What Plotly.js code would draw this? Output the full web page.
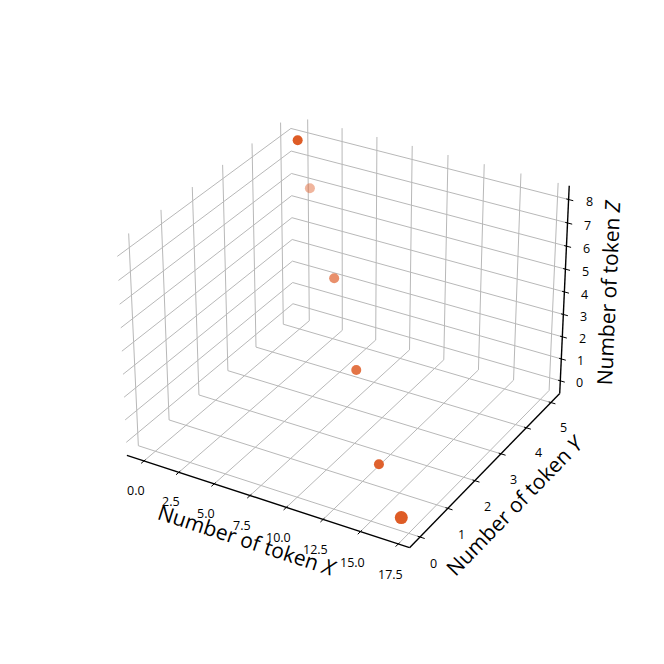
<!DOCTYPE html>
<html><head><meta charset="utf-8">
<script src="https://cdn.plot.ly/plotly-3.0.1.min.js"></script>
<style>html,body{margin:0;padding:0;background:#fff;}#chart{width:664px;height:664px;}</style>
</head><body><div id="chart"></div>
<script>
// ---- Values ----
const tokenX = [0, 2.9, 6.6, 10.1, 13.6, 17];
const tokenY = [5, 4, 3, 2, 1, 0];
const tokenZ = [8, 7.3, 5.0, 2.7, 0.4, 0];
const pointAlpha = [1, 0.45, 0.68, 0.85, 0.97, 1];
const pointSize = [10, 10, 10, 10, 10, 13];
const xTickVals = [0, 2.5, 5, 7.5, 10, 12.5, 15, 17.5];
const xTickText = ['0.0', '2.5', '5.0', '7.5', '10.0', '12.5', '15.0', '17.5'];
const yTickVals = [0, 1, 2, 3, 4, 5];
const yTickText = ['0', '1', '2', '3', '4', '5'];
const zTickVals = [0, 1, 2, 3, 4, 5, 6, 7, 8];
const zTickText = ['0', '1', '2', '3', '4', '5', '6', '7', '8'];
const axisTitles = ['Number of token <i>X</i>', 'Number of token <i>Y</i>', 'Number of token <i>Z</i>'];

// ---- 3D view (elevation 30°, azimuth -60°, perspective, box aspect 4:4:3) ----
const ELEV = 30 * Math.PI / 180, AZIM = -60 * Math.PI / 180, DIST = 10;
const boxRaw = [4, 4, 3];
const boxNorm = Math.hypot(...boxRaw);
const BOX = boxRaw.map(v => v * 1.8294640721620434 / boxNorm);
function lims(arr) { const mn = Math.min(...arr), mx = Math.max(...arr), m = (mx - mn) * 0.05; return [mn - m, mx + m]; }
const L = [lims(tokenX), lims(tokenY), lims(tokenZ)];
const DEL = L.map(l => (l[1] - l[0]) / 12);
const PANE = L.map((l, i) => [l[0] - DEL[i] / 4, l[1] + DEL[i] / 4]);
const CEN = L.map(l => (l[0] + l[1]) / 2);
const dot = (a, b) => a[0] * b[0] + a[1] * b[1] + a[2] * b[2];
const cross = (a, b) => [a[1] * b[2] - a[2] * b[1], a[2] * b[0] - a[0] * b[2], a[0] * b[1] - a[1] * b[0]];
const W = [Math.cos(ELEV) * Math.cos(AZIM), Math.cos(ELEV) * Math.sin(AZIM), Math.sin(ELEV)];
let U = cross([0, 0, 1], W); const un = Math.hypot(...U); U = U.map(v => v / un);
const V = cross(W, U);
function proj(p) {
  const q = [0, 1, 2].map(i => ((p[i] - L[i][0]) / (L[i][1] - L[i][0]) - 0.5) * BOX[i]);
  const s = 10 / (DIST - dot(W, q));
  return [dot(U, q) * s, dot(V, q) * s];
}
// screen placement of the projected plane
const SCALE = 272, CX = 347.3, CY = 321, SIZE = 664;

// ---- build line traces ----
function segs(list) {
  const xs = [], ys = [];
  list.forEach(poly => { poly.forEach(p => { const r = proj(p); xs.push(r[0]); ys.push(r[1]); }); xs.push(null); ys.push(null); });
  return {xs, ys};
}
const [x0, x1] = PANE[0], [y0, y1] = PANE[1], [z0, z1] = PANE[2];
const gridPolys = [];
xTickVals.forEach(x => gridPolys.push([[x, y0, z0], [x, y1, z0], [x, y1, z1]]));
yTickVals.forEach(y => gridPolys.push([[x1, y, z0], [x0, y, z0], [x0, y, z1]]));
zTickVals.forEach(z => gridPolys.push([[x0, y0, z], [x0, y1, z], [x1, y1, z]]));
const grid = segs(gridPolys);

const axisPolys = [
  [[x0, y0, z0], [x1, y0, z0]],
  [[x1, y0, z0], [x1, y1, z0]],
  [[x1, y1, z0], [x1, y1, z1]]
];
const axes = segs(axisPolys);

const axisDefs = [
  {idx: 0, dir: 1, edge: [0, y0, z0], vals: xTickVals, text: xTickText, shift: [2, 8]},
  {idx: 1, dir: 0, edge: [x1, 0, z0], vals: yTickVals, text: yTickText, shift: [-4, 8]},
  {idx: 2, dir: 0, edge: [x1, y1, 0], vals: zTickVals, text: zTickText, shift: [-5.5, 5.5]}
];
const tickPolys = [];
const annotations = [];
const tickFont = {family: 'Open Sans', size: 12.5, color: '#000'};
const titleFont = {family: 'Open Sans', size: 21, color: '#000'};
function moveFromCenter(p, idx, f) {
  return p.map((v, j) => j === idx ? v : v + Math.sign(v - CEN[j]) * f * DEL[j]);
}
axisDefs.forEach(ad => {
  const out = Math.sign(ad.edge[ad.dir] - CEN[ad.dir]);
  ad.vals.forEach((val, i) => {
    const p = ad.edge.slice(); p[ad.idx] = val;
    const a = p.slice(); a[ad.dir] = p[ad.dir] + 0.2 * out * DEL[ad.dir];
    const b = p.slice(); b[ad.dir] = p[ad.dir] - 0.1 * out * DEL[ad.dir];
    tickPolys.push([a, b]);
    const lp = proj(moveFromCenter(p, ad.idx, 0.75));
    annotations.push({x: lp[0], y: lp[1], xref: 'x', yref: 'y', text: ad.text[i], showarrow: false,
      xanchor: 'center', yanchor: 'middle', xshift: ad.shift[0], yshift: -ad.shift[1], font: tickFont});
  });
});
const ticks = segs(tickPolys);

const titleShift = [[5, -8], [-10, 0], [-12, 8]];
axisPolys.forEach((poly, i) => {
  const pa = proj(poly[0]), pb = proj(poly[1]);
  let ang = Math.atan2(-(pb[1] - pa[1]), pb[0] - pa[0]) * 180 / Math.PI;
  if (ang > 90) ang -= 180; if (ang < -90) ang += 180;
  const mid = poly[0].map((v, j) => (v + poly[1][j]) / 2);
  const lp = proj(moveFromCenter(mid, i, 1.63));
  annotations.push({x: lp[0], y: lp[1], xref: 'x', yref: 'y', text: axisTitles[i], showarrow: false,
    textangle: ang, xanchor: 'center', yanchor: 'middle', xshift: titleShift[i][0], yshift: -titleShift[i][1], font: titleFont});
});

const ptX = [], ptY = [];
tokenX.forEach((x, i) => { const r = proj([x, tokenY[i], tokenZ[i]]); ptX.push(r[0]); ptY.push(r[1]); });
const colors = pointAlpha.map(a => `rgba(222,92,38,${a})`);

const traces = [
  {type: 'scatter', mode: 'lines', x: grid.xs, y: grid.ys, line: {color: 'rgb(184,184,184)', width: 1}, hoverinfo: 'skip', connectgaps: false},
  {type: 'scatter', mode: 'lines', x: axes.xs, y: axes.ys, line: {color: '#000', width: 1.4}, hoverinfo: 'skip'},
  {type: 'scatter', mode: 'lines', x: ticks.xs, y: ticks.ys, line: {color: '#000', width: 1}, hoverinfo: 'skip'},
  {type: 'scatter', mode: 'markers', x: ptX, y: ptY, marker: {size: pointSize, color: colors, opacity: 1, line: {width: 0}}, hoverinfo: 'skip', cliponaxis: false}
];

const layout = {
  width: SIZE, height: SIZE,
  margin: {l: 0, r: 0, t: 0, b: 0},
  paper_bgcolor: '#fff', plot_bgcolor: '#fff',
  showlegend: false,
  xaxis: {range: [-CX / SCALE, (SIZE - CX) / SCALE], visible: false, fixedrange: true},
  yaxis: {range: [-(SIZE - CY) / SCALE, CY / SCALE], visible: false, fixedrange: true},
  annotations: annotations
};
Plotly.newPlot('chart', traces, layout, {displayModeBar: false, staticPlot: true});
</script></body></html>
